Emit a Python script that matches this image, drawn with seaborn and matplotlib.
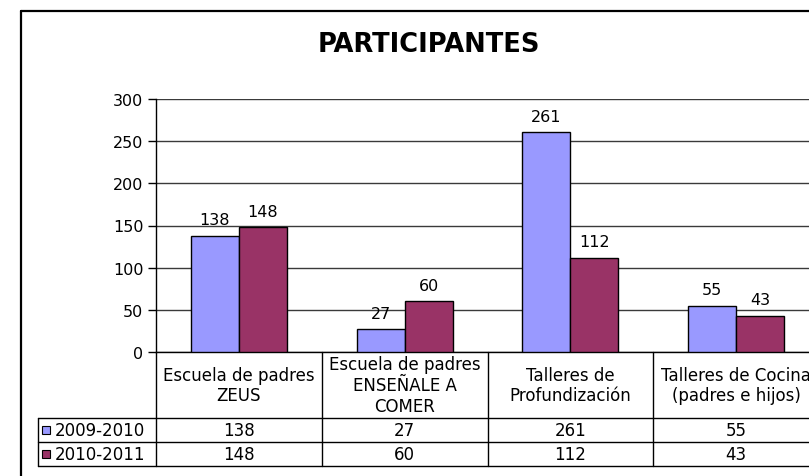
import matplotlib
matplotlib.use("Agg")
import matplotlib.pyplot as plt
import matplotlib.transforms as mtransforms
from matplotlib.lines import Line2D
from matplotlib.patches import Rectangle
import pandas as pd
import seaborn as sns

# Data
categories = ["Escuela de padres\nZEUS",
              "Escuela de padres\nENSEÑALE A\nCOMER",
              "Talleres de\nProfundización",
              "Talleres de Cocina\n(padres e hijos)"]
series_names = ["2009-2010", "2010-2011"]
values_2009_2010 = [138, 27, 261, 55]
values_2010_2011 = [148, 60, 112, 43]
y_ticks = [0, 50, 100, 150, 200, 250, 300]

colors = ["#9999FF", "#993366"]

df = pd.DataFrame({
    "categoria": categories * 2,
    "periodo": [series_names[0]] * 4 + [series_names[1]] * 4,
    "participantes": values_2009_2010 + values_2010_2011,
})

sns.set_theme(style="white")
plt.rcParams["font.family"] = ["DejaVu Sans"]

W, H = 809, 477
fig = plt.figure(figsize=(W / 100, H / 100), dpi=100)
fig.patch.set_facecolor("white")


def fx(px):
    return px / W


def fy(py):
    return 1 - py / H


# Plot area (extends slightly past the right edge of the canvas)
ax_left, ax_right, ax_top, ax_bottom = 156, 819, 100, 353
ax = fig.add_axes([fx(ax_left), fy(ax_bottom), fx(ax_right - ax_left),
                   (ax_bottom - ax_top) / H])

sns.barplot(data=df, x="categoria", y="participantes", hue="periodo",
            palette=colors, width=0.58, edgecolor="black", linewidth=1.0,
            saturation=1, ax=ax, legend=False, zorder=3)

ax.set_xlim(-0.5, 3.5)
ax.set_ylim(0, 300)
ax.set_yticks(y_ticks)
ax.set_yticklabels([str(t) for t in y_ticks], fontsize=11.5, color="black")
ax.set_xticks([])
ax.set_xlabel("")
ax.set_ylabel("")
ax.yaxis.grid(True, color="#3a3a3a", linewidth=1.0, zorder=0)
ax.set_axisbelow(True)
ax.tick_params(axis="y", direction="out", length=6, width=1, color="black",
               left=True, pad=3)
for side in ["top", "right"]:
    ax.spines[side].set_visible(False)
for side in ["left", "bottom"]:
    ax.spines[side].set_color("black")
    ax.spines[side].set_linewidth(1.0)

for cont in ax.containers:
    ax.bar_label(cont, fmt="%d", padding=6, fontsize=11.5, color="black")

# Title
fig.text(fx(429), fy(45), "PARTICIPANTES", ha="center", va="center",
         fontsize=18.5, fontweight="bold", color="black")

# Data table under the plot
row_top, row_mid, row_bot = 419, 443, 467
legend_left = 38
blend = mtransforms.blended_transform_factory(ax.transData, fig.transFigure)
line_kw = dict(color="black", linewidth=1.0, clip_on=False)

# vertical separators between category columns
for i in range(len(categories) + 1):
    xb = i - 0.5
    fig.add_artist(Line2D([xb, xb], [fy(ax_bottom), fy(row_bot)],
                          transform=blend, **line_kw))
# horizontal rules
for yy in (row_top, row_mid, row_bot):
    fig.add_artist(Line2D([fx(legend_left), 1.05], [fy(yy), fy(yy)],
                          transform=fig.transFigure, **line_kw))
fig.add_artist(Line2D([fx(legend_left), fx(legend_left)],
                      [fy(row_top), fy(row_bot)],
                      transform=fig.transFigure, **line_kw))

# category labels
for i, cat in enumerate(categories):
    fig.text(i, fy((ax_bottom + row_top) / 2), cat, transform=blend,
             ha="center", va="center", fontsize=12, linespacing=1.2,
             color="black")

# series rows
rows = [(series_names[0], values_2009_2010, colors[0], row_top, row_mid),
        (series_names[1], values_2010_2011, colors[1], row_mid, row_bot)]
for name, vals, col, y0, y1 in rows:
    yc = (y0 + y1) / 2
    fig.add_artist(Rectangle((fx(42), fy(yc + 4)), fx(8), 8 / H,
                             transform=fig.transFigure, facecolor=col,
                             edgecolor="black", linewidth=0.8))
    fig.text(fx(55), fy(yc), name, ha="left", va="center",
             fontsize=12, color="black")
    for i, v in enumerate(vals):
        fig.text(i, fy(yc), str(v), transform=blend, ha="center",
                 va="center", fontsize=12, color="black")

# chart frame
frame_kw = dict(color="black", linewidth=1.6, transform=fig.transFigure)
fig.add_artist(Line2D([fx(21), fx(21)], [fy(12), 0], **frame_kw))
fig.add_artist(Line2D([fx(21), 1.0], [fy(12), fy(12)], **frame_kw))

fig.savefig("out.png", dpi=100, facecolor="white")
